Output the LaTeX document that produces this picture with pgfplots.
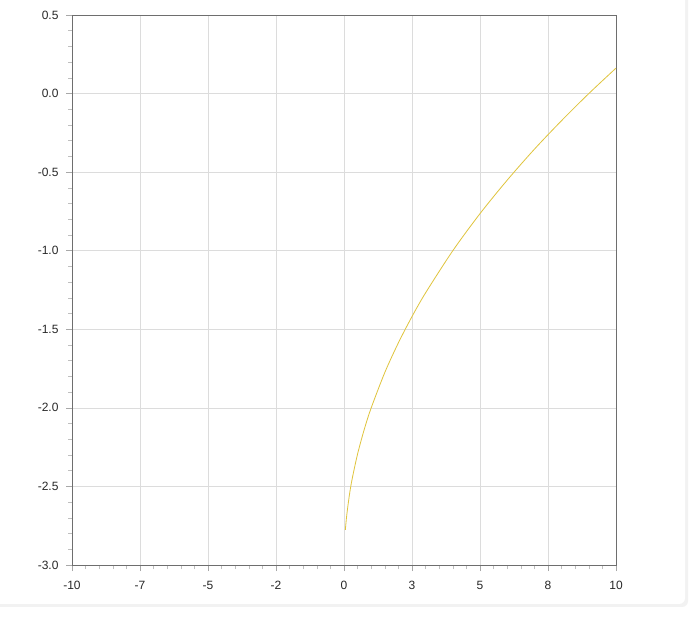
\documentclass[border=0pt]{standalone}
\usepackage{pgfplots}
\pgfplotsset{compat=1.18}
\usepackage{fontspec}
\setmainfont{Liberation Sans}
\definecolor{curve}{RGB}{224,196,60}
\definecolor{gridc}{RGB}{220,220,220}
\definecolor{axc}{RGB}{110,110,110}
\definecolor{labc}{RGB}{40,40,40}
\begin{document}
\begin{tikzpicture}[x=1pt,y=1pt]
\path[use as bounding box] (0,0) rectangle (696,621);
\fill[white] (0,0) rectangle (696,621);
\fill[black!5,rounded corners=6pt] (-10,14) rectangle (688,640);
\fill[white,rounded corners=6pt] (-10,17) rectangle (685,640);
\begin{axis}[
  at={(72pt,56pt)}, anchor=south west,
  scale only axis, width=544pt, height=550pt,
  xmin=-10, xmax=10, ymin=-3, ymax=0.5,
  xtick={-10,-7.5,-5,-2.5,0,2.5,5,7.5,10},
  xticklabels={-10,-7,-5,-2,0,3,5,8,10},
  ytick={-3,-2.5,-2,-1.5,-1,-0.5,0,0.5},
  y tick label style={/pgf/number format/fixed,/pgf/number format/fixed zerofill,/pgf/number format/precision=1},
  /pgf/number format/assume math mode=true,
  minor x tick num=4, minor y tick num=4,
  tick align=outside, tick pos=left,
  major tick length=6pt, minor tick length=4pt,
  every tick/.style={axc!60, line width=0.5pt},
  minor tick style={black!25},
  grid=major, major grid style={gridc, line width=0.6pt},
  axis line style={axc, line width=0.8pt},
  ticklabel style={font=\fontsize{12}{14}\selectfont, text=labc},
  x tick label style={yshift=-7pt},
  y tick label style={xshift=-4pt},
]
\addplot[curve, line width=0.8pt, smooth] coordinates {
(0.05,-2.776) (0.1,-2.684) (0.2,-2.553) (0.3,-2.452) (0.5,-2.293)
(0.75,-2.134) (1,-2.0) (1.5,-1.775) (2,-1.586) (2.5,-1.419)
(3,-1.268) (4,-1.0) (5,-0.764) (6,-0.551) (7,-0.354)
(8,-0.172) (9,0.0) (10,0.162)
};
\end{axis}
\end{tikzpicture}
\end{document}
